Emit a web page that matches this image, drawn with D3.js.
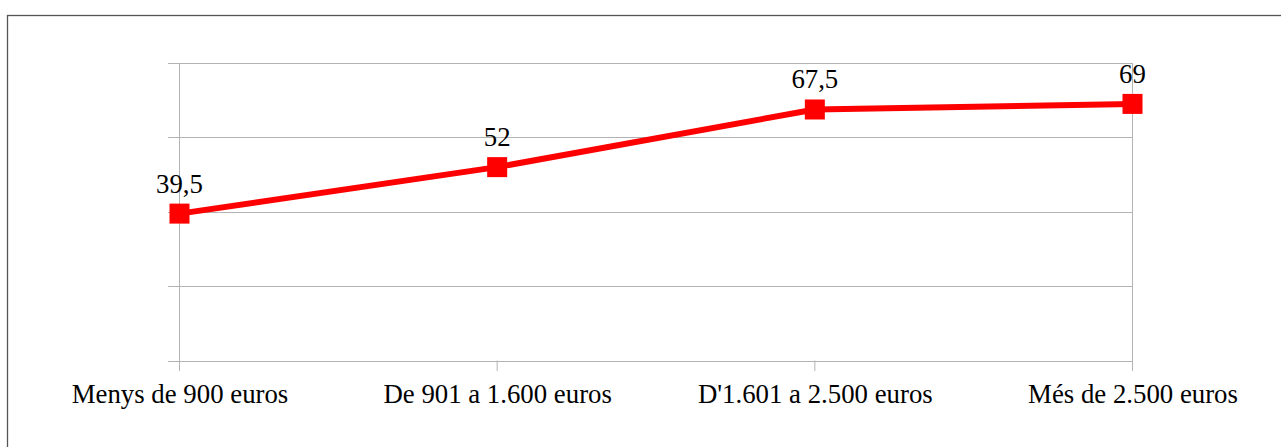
<!DOCTYPE html>
<html>
<head>
<meta charset="utf-8">
<script src="https://cdn.jsdelivr.net/npm/d3@7/dist/d3.min.js"></script>
<style>
  html, body { margin: 0; padding: 0; background: #fff; }
  svg { display: block; }
</style>
</head>
<body>
<svg id="chart" width="1281" height="447"></svg>
<script>
const categories = ["Menys de 900 euros", "De 901 a 1.600 euros", "D'1.601 a 2.500 euros", "Més de 2.500 euros"];
const values = [39.5, 52, 67.5, 69];
const valueLabels = ["39,5", "52", "67,5", "69"];
const yTicks = [0, 20, 40, 60, 80];

const svg = d3.select("#chart");
const W = 1281, H = 447;

// outer frame (right and bottom edges fall outside the picture)
svg.append("rect")
  .attr("x", 7.5).attr("y", 15.5)
  .attr("width", W + 20).attr("height", H + 20)
  .attr("fill", "none").attr("stroke", "#555").attr("stroke-width", 1.3);

const x = d3.scalePoint().domain(categories).range([179.5, 1132.5]);
const y = d3.scaleLinear().domain([0, 80]).range([360.5, 63]);

const gridColor = "#b3b3b3";
const last = categories.length - 1;

// horizontal gridlines (with short ticks to the left)
svg.append("g").selectAll("line").data(yTicks).join("line")
  .attr("x1", 168).attr("x2", 1132.5)
  .attr("y1", d => Math.round(y(d)) + 0.5).attr("y2", d => Math.round(y(d)) + 0.5)
  .attr("stroke", gridColor).attr("stroke-width", 1);

// vertical lines: full height at the ends, short ticks below axis in between
svg.append("g").selectAll("line").data(categories).join("line")
  .attr("x1", d => x(d)).attr("x2", d => x(d))
  .attr("y1", (d, i) => (i === 0 || i === last) ? 63 : 360.5)
  .attr("y2", 371)
  .attr("stroke", gridColor).attr("stroke-width", 1);

// x axis labels
const xAxis = d3.axisBottom(x).tickSize(0).tickPadding(0);
const gx = svg.append("g").attr("transform", "translate(0,403)").call(xAxis);
gx.select(".domain").remove();
gx.selectAll("text")
  .attr("dy", 0).attr("y", 0)
  .attr("font-family", "'Liberation Serif', 'Times New Roman', serif")
  .attr("font-size", 26.8).attr("fill", "#000");

// line
const line = d3.line().x((d, i) => x(categories[i])).y(d => y(d));
svg.append("path").datum(values)
  .attr("d", line).attr("fill", "none")
  .attr("stroke", "#ff0000").attr("stroke-width", 6).attr("stroke-linejoin", "round");

// markers
svg.append("g").selectAll("rect").data(values).join("rect")
  .attr("x", (d, i) => x(categories[i]) - 10)
  .attr("y", d => y(d) - 10)
  .attr("width", 20).attr("height", 20)
  .attr("fill", "#ff0000");

// value labels
svg.append("g").selectAll("text").data(values).join("text")
  .attr("x", (d, i) => x(categories[i]))
  .attr("y", d => y(d) - 21)
  .attr("text-anchor", "middle")
  .attr("font-family", "'Liberation Serif', 'Times New Roman', serif")
  .attr("font-size", 26.8).attr("fill", "#000")
  .text((d, i) => valueLabels[i]);
</script>
</body>
</html>
